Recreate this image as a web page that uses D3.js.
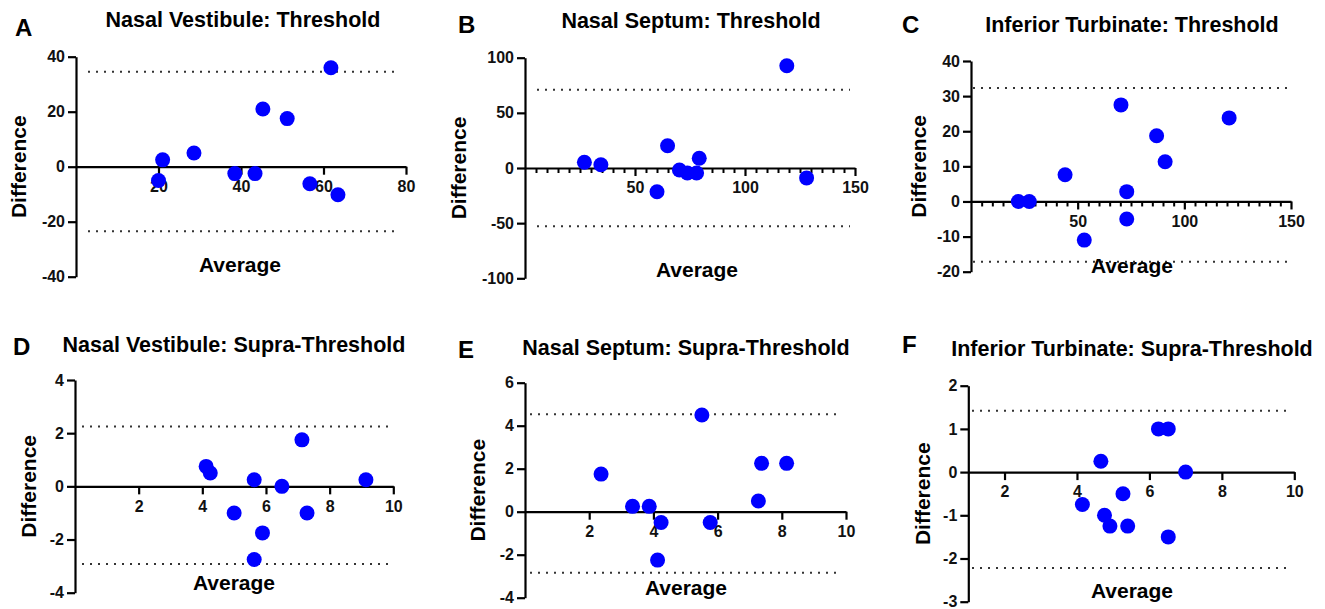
<!DOCTYPE html>
<html>
<head>
<meta charset="utf-8">
<script src="https://cdn.jsdelivr.net/npm/d3@7"></script>
<style>
  html, body { margin: 0; padding: 0; background: #fff; }
  svg { display: block; font-family: Arial, "Liberation Sans", sans-serif; }
</style>
</head>
<body>
<svg id="chart" width="1325" height="609"></svg>
<script>
// Bland-Altman panels: difference vs average for each nasal site

const panelLetters = ['A', 'B', 'C', 'D', 'E', 'F'];
const panelTitles = [
    'Nasal Vestibule: Threshold',
    'Nasal Septum: Threshold',
    'Inferior Turbinate: Threshold',
    'Nasal Vestibule: Supra-Threshold',
    'Nasal Septum: Supra-Threshold',
    'Inferior Turbinate: Supra-Threshold'
];

// averages (x) and differences (y)
const vestThreshAvg  = [20, 21, 28.6, 38.5, 43.4, 45.3, 51.2, 56.7, 61.8, 63.5];
const vestThreshDiff = [-5, 2.5, 5, -2.5, -2.5, 21, 17.5, -6.2, 36, -10.2];
const septThreshAvg  = [27, 34.5, 60, 64.8, 70.2, 73.8, 78, 79.2, 119, 128];
const septThreshDiff = [5.2, 3, -21.5, 20.2, -1.8, -4.5, -4.5, 8.8, 92.7, -9];
const turbThreshAvg  = [22.2, 27.3, 44.1, 53.1, 70.3, 73, 73, 87, 91, 121];
const turbThreshDiff = [0, 0, 7.6, -11, 27.5, 2.8, -5, 18.7, 11.3, 23.8];
const vestSupraAvg   = [4.12, 4.25, 5.0, 5.63, 5.89, 5.63, 6.5, 7.13, 7.29, 9.14];
const vestSupraDiff  = [0.75, 0.5, -1, 0.25, -1.75, -2.75, 0, 1.75, -1, 0.25];
const septSupraAvg   = [2.37, 3.35, 3.87, 4.24, 4.13, 5.51, 5.77, 7.27, 7.37, 8.15];
const septSupraDiff  = [1.75, 0.25, 0.25, -0.5, -2.25, 4.5, -0.5, 0.5, 2.25, 2.25];
const turbSupraAvg   = [4.15, 4.66, 4.76, 4.91, 5.27, 5.40, 6.25, 6.52, 6.52, 7.0];
const turbSupraDiff  = [-0.75, 0.25, -1, -1.25, -0.5, -1.25, 1, 1, -1.5, 0];

// 95% limits of agreement (dotted lines)
const upperLimits = [34.5, 71, 32.3, 2.25, 4.53, 1.42];
const lowerLimits = [-23.5, -52.9, -17.2, -2.92, -2.84, -2.22];

// axis ranges and tick labels
const xDomains = [[0, 80], [0, 150], [0, 150], [0, 10], [0, 10], [1, 10]];
const yDomains = [[-40, 40], [-100, 100], [-20, 40], [-4, 4], [-4, 6], [-3, 2]];
const xTickLabels = [
    [20, 40, 60, 80], [50, 100, 150], [50, 100, 150],
    [2, 4, 6, 8, 10], [2, 4, 6, 8, 10], [2, 4, 6, 8, 10]
];
const yTickLabels = [
    [-40, -20, 0, 20, 40], [-100, -50, 0, 50, 100], [-20, -10, 0, 10, 20, 30, 40],
    [-4, -2, 0, 2, 4], [-4, -2, 0, 2, 4, 6], [-3, -2, -1, 0, 1, 2]
];
const xMinorSteps = [0, 5, 5, 0, 0, 0];

const seriesAvg  = [vestThreshAvg, septThreshAvg, turbThreshAvg, vestSupraAvg, septSupraAvg, turbSupraAvg];
const seriesDiff = [vestThreshDiff, septThreshDiff, turbThreshDiff, vestSupraDiff, septSupraDiff, turbSupraDiff];

// page layout of each panel (pixels)
const layout = [
    { left: 76,    right: 406,    top: 56.7,  bottom: 276.7, titleX: 243,  titleY: 27,  letterX: 15,  letterY: 36,  yLabX: 18,    avgX: 240,  avgY: 272, loaX1: 88,  loaX2: 400 },
    { left: 525,   right: 855,    top: 57.7,  bottom: 278.3, titleX: 691,  titleY: 28,  letterX: 458, letterY: 33,  yLabX: 458,   avgX: 697,  avgY: 277, loaX1: 537, loaX2: 850 },
    { left: 971,   right: 1291,   top: 61,    bottom: 271.7, titleX: 1132, titleY: 32,  letterX: 902, letterY: 33,  yLabX: 918,   avgX: 1132, avgY: 273, loaX1: 973, loaX2: 1287 },
    { left: 75,    right: 393.3,  top: 380,   bottom: 592.7, titleX: 234,  titleY: 352, letterX: 13,  letterY: 355, yLabX: 28,    avgX: 234,  avgY: 590, loaX1: 82,  loaX2: 388 },
    { left: 525,   right: 846,    top: 382.7, bottom: 597.7, titleX: 686,  titleY: 355, letterX: 458, letterY: 358, yLabX: 477.5, avgX: 686,  avgY: 595, loaX1: 530, loaX2: 842 },
    { left: 968.3, right: 1294.3, top: 385.7, bottom: 601.7, titleX: 1132, titleY: 356, letterX: 902, letterY: 353, yLabX: 922,   avgX: 1132, avgY: 598, loaX1: 972, loaX2: 1290 }
];

const svg = d3.select('#chart');

panelLetters.forEach((letter, i) => {
    const L = layout[i];
    const x = d3.scaleLinear().domain(xDomains[i]).range([L.left, L.right]);
    const y = d3.scaleLinear().domain(yDomains[i]).range([L.bottom, L.top]);
    const g = svg.append('g').attr('class', 'panel');

    // panel letter + title
    g.append('text')
        .attr('x', L.letterX).attr('y', L.letterY)
        .attr('font-size', '24px').attr('font-weight', 'bold')
        .text(letter);

    g.append('text')
        .attr('x', L.titleX).attr('y', L.titleY)
        .attr('text-anchor', 'middle')
        .attr('font-size', '21.5px').attr('font-weight', 'bold')
        .text(panelTitles[i]);

    // limits of agreement
    [upperLimits[i], lowerLimits[i]].forEach(v => {
        g.append('line')
            .attr('x1', L.loaX1).attr('x2', L.loaX2)
            .attr('y1', y(v)).attr('y2', y(v))
            .attr('stroke', '#333')
            .attr('stroke-width', 2)
            .attr('stroke-dasharray', '2,6');
    });

    // minor x ticks (B, C)
    if (xMinorSteps[i]) {
        const minor = d3.range(xDomains[i][0] + xMinorSteps[i], xDomains[i][1], xMinorSteps[i])
            .filter(v => !xTickLabels[i].includes(v));
        const gm = g.append('g')
            .attr('transform', `translate(0, ${y(0)})`)
            .call(d3.axisBottom(x).tickValues(minor).tickSize(5).tickFormat(''));
        gm.select('.domain').remove();
        gm.selectAll('line').attr('stroke', '#000').attr('stroke-width', 2);
    }

    // x axis at y = 0
    const gx = g.append('g')
        .attr('transform', `translate(0, ${y(0)})`)
        .call(d3.axisBottom(x).tickValues(xTickLabels[i]).tickSize(8).tickSizeOuter(0)
            .tickPadding(6).tickFormat(d => String(d)));

    // y axis
    const gy = g.append('g')
        .attr('transform', `translate(${L.left}, 0)`)
        .call(d3.axisLeft(y).tickValues(yTickLabels[i]).tickSize(8).tickSizeOuter(0)
            .tickPadding(3).tickFormat(d => String(d)));

    [gx, gy].forEach(ax => {
        ax.attr('font-family', null).attr('font-size', null);
        ax.select('.domain').attr('stroke', '#000').attr('stroke-width', 2.2);
        ax.selectAll('.tick line').attr('stroke', '#000').attr('stroke-width', 2.2);
        ax.selectAll('.tick text')
            .attr('fill', '#111')
            .attr('font-size', '16px')
            .attr('font-weight', 'bold');
    });

    // axis titles
    g.append('text')
        .attr('transform', `translate(${L.yLabX}, ${(L.top + L.bottom) / 2}) rotate(-90)`)
        .attr('text-anchor', 'middle')
        .attr('dominant-baseline', 'central')
        .attr('font-size', '21px').attr('font-weight', 'bold')
        .text('Difference');

    g.append('text')
        .attr('x', L.avgX).attr('y', L.avgY)
        .attr('text-anchor', 'middle')
        .attr('font-size', '21px').attr('font-weight', 'bold')
        .text('Average');

    // points
    const pts = seriesAvg[i].map((a, k) => ({ avg: a, diff: seriesDiff[i][k] }));
    g.selectAll('.dot')
        .data(pts)
        .enter()
        .append('circle')
        .attr('class', 'dot')
        .attr('cx', d => x(d.avg))
        .attr('cy', d => y(d.diff))
        .attr('r', 7.5)
        .attr('fill', '#0000ff');
});
</script>
</body>
</html>
